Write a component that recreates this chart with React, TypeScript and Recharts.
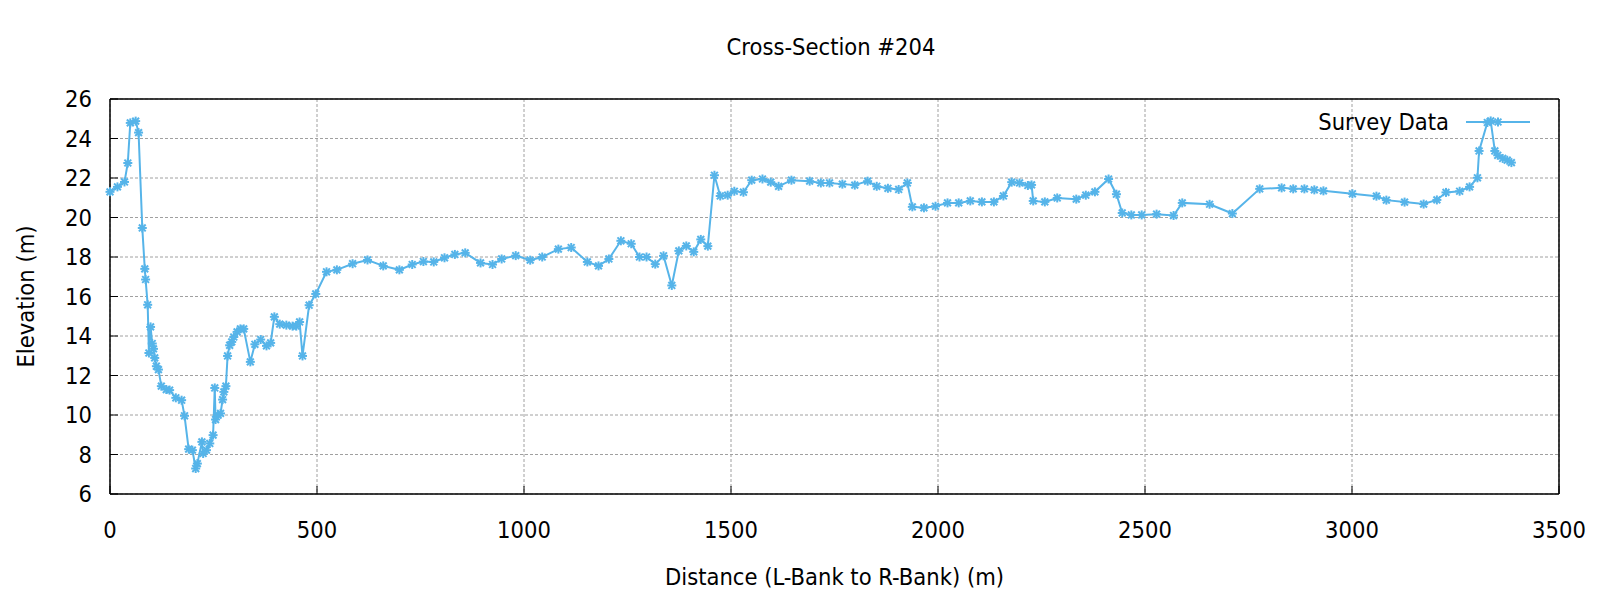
import { LineChart, Line, XAxis, YAxis, CartesianGrid, Legend, Label } from 'recharts';

const distance = [
  0, 18, 35, 43, 49, 62, 69, 78, 84, 86, 91, 94, 98, 102, 105, 108, 112, 117, 124, 136,
  144, 159, 173, 180, 190, 199, 207, 211, 222, 225, 233, 241, 249, 253, 255, 261, 267, 272, 275, 280,
  284, 289, 294, 299, 307, 315, 323, 339, 350, 364, 378, 388, 397, 410, 426, 441, 450, 458, 465, 481,
  497, 523, 548, 586, 622, 660, 699, 730, 757, 782, 808, 833, 858, 895, 924, 946, 980, 1015, 1044, 1083,
  1114, 1153, 1180, 1205, 1234, 1259, 1279, 1296, 1317, 1337, 1357, 1374, 1392, 1410, 1427, 1444, 1460, 1474, 1492, 1508,
  1530, 1550, 1576, 1596, 1615, 1646, 1690, 1717, 1738, 1769, 1799, 1830, 1852, 1879, 1905, 1926, 1938, 1966, 1994, 2023,
  2050, 2078, 2106, 2135, 2158, 2178, 2197, 2217, 2226, 2230, 2258, 2288, 2334, 2357, 2379, 2412, 2431, 2445, 2467, 2492,
  2528, 2569, 2590, 2656, 2711, 2777, 2830, 2858, 2885, 2909, 2931, 3001, 3059, 3083, 3127, 3173, 3205, 3227, 3260, 3284,
  3303, 3307, 3327, 3335, 3345, 3352, 3364, 3375, 3385,
];

const elevation = [
  21.3, 21.55, 21.8, 22.76, 24.79, 24.88, 24.3, 19.47, 17.4, 16.86, 15.58, 13.14, 14.46, 13.62, 13.35, 12.89, 12.47, 12.3, 11.46, 11.29,
  11.26, 10.87, 10.75, 9.96, 8.27, 8.22, 7.29, 7.54, 8.64, 8.05, 8.22, 8.56, 8.98, 11.37, 9.77, 9.99, 10.08, 10.78, 11.17, 11.46,
  12.99, 13.53, 13.7, 13.95, 14.21, 14.36, 14.36, 12.69, 13.58, 13.82, 13.5, 13.65, 14.97, 14.6, 14.55, 14.5, 14.5, 14.71, 12.99, 15.56,
  16.13, 17.25, 17.35, 17.66, 17.85, 17.55, 17.35, 17.62, 17.77, 17.75, 17.96, 18.13, 18.21, 17.7, 17.62, 17.9, 18.07, 17.84, 18.0, 18.4,
  18.48, 17.75, 17.55, 17.9, 18.82, 18.67, 18.0, 18.0, 17.64, 18.06, 16.56, 18.31, 18.56, 18.26, 18.89, 18.55, 22.14, 21.09, 21.13, 21.33,
  21.28, 21.89, 21.95, 21.79, 21.58, 21.89, 21.84, 21.75, 21.75, 21.69, 21.64, 21.84, 21.58, 21.48, 21.42, 21.75, 20.54, 20.49, 20.57, 20.74,
  20.74, 20.84, 20.79, 20.79, 21.09, 21.79, 21.75, 21.62, 21.65, 20.84, 20.79, 20.99, 20.93, 21.13, 21.3, 21.95, 21.18, 20.23, 20.13, 20.13,
  20.17, 20.1, 20.74, 20.67, 20.2, 21.45, 21.5, 21.45, 21.45, 21.4, 21.35, 21.2, 21.08, 20.88, 20.78, 20.68, 20.89, 21.27, 21.33, 21.55,
  22.01, 23.37, 24.81, 24.89, 23.37, 23.15, 22.99, 22.9, 22.78,
];

const xTicks = [0, 500, 1000, 1500, 2000, 2500, 3000, 3500];
const yTicks = [6, 8, 10, 12, 14, 16, 18, 20, 22, 24, 26];

const data = distance.map((d, i) => ({ distance: d, elevation: elevation[i] }));

const BLUE = '#56b4e9';
const FONT = '"Liberation Sans Narrow", "DejaVu Sans Condensed", Lato, sans-serif';
const FS = 23.5;

function Star(props: any) {
  const { cx, cy, index } = props;
  const r = 4.5;
  const d = 3.4;
  return (
    <g key={`pt-${index}`} stroke={BLUE} strokeWidth={2}>
      <line x1={cx - r} y1={cy} x2={cx + r} y2={cy} />
      <line x1={cx} y1={cy - r} x2={cx} y2={cy + r} />
      <line x1={cx - d} y1={cy - d} x2={cx + d} y2={cy + d} />
      <line x1={cx - d} y1={cy + d} x2={cx + d} y2={cy - d} />
    </g>
  );
}

function LegendBox() {
  return (
    <div style={{ display: 'flex', justifyContent: 'flex-end', alignItems: 'center', height: 30 }}>
      <span style={{ fontSize: FS, color: '#000' }}>Survey Data</span>
      <svg width={64} height={14} style={{ marginLeft: 17 }}>
        <line x1={0} y1={7} x2={64} y2={7} stroke={BLUE} strokeWidth={2} />
        <Star cx={32} cy={7} index={0} />
      </svg>
    </div>
  );
}

export default function App() {
  return (
    <div style={{ position: 'absolute', left: 0, top: 0, width: 1600, height: 600, background: '#fff', fontFamily: FONT }}>
      <div style={{ position: 'absolute', left: 631, top: 32, width: 400, textAlign: 'center', fontSize: FS, lineHeight: '30px' }}>
        Cross-Section #204
      </div>
      <LineChart width={1600} height={600} data={data} margin={{ top: 89, right: 31, bottom: 66, left: 50 }}>
        <CartesianGrid stroke="#a0a0a0" strokeDasharray="3 2" />
        <XAxis
          dataKey="distance"
          type="number"
          domain={[0, 3500]}
          ticks={xTicks}
          height={40}
          tickSize={-8}
          tickMargin={35}
          axisLine={{ stroke: '#000', strokeWidth: 1.5 }}
          tickLine={{ stroke: '#000' }}
          tick={{ fill: '#000', fontSize: FS }}
        >
          <Label value="Distance (L-Bank to R-Bank) (m)" position="bottom" offset={34} style={{ fill: '#000', fontSize: FS }} />
        </XAxis>
        <XAxis
          xAxisId="top"
          orientation="top"
          type="number"
          domain={[0, 3500]}
          ticks={xTicks}
          height={10}
          tickSize={-8}
          tick={false}
          axisLine={{ stroke: '#000', strokeWidth: 1.5 }}
          tickLine={{ stroke: '#000' }}
        />
        <YAxis
          type="number"
          domain={[6, 26]}
          ticks={yTicks}
          width={60}
          tickSize={-8}
          tickMargin={26}
          axisLine={{ stroke: '#000', strokeWidth: 1.5 }}
          tickLine={{ stroke: '#000' }}
          tick={{ fill: '#000', fontSize: FS }}
        >
          <Label value="Elevation (m)" position="left" angle={-90} offset={24} style={{ fill: '#000', fontSize: FS, textAnchor: 'middle' }} />
        </YAxis>
        <YAxis
          yAxisId="right"
          orientation="right"
          type="number"
          domain={[6, 26]}
          ticks={yTicks}
          width={10}
          tickSize={-8}
          tick={false}
          axisLine={{ stroke: '#000', strokeWidth: 1.5 }}
          tickLine={{ stroke: '#000' }}
        />
        <Legend
          layout="horizontal"
          verticalAlign="middle"
          align="center"
          content={<LegendBox />}
          wrapperStyle={{ left: 1230, top: 107, width: 300, height: 30 }}
        />
        <Line
          dataKey="elevation"
          name="Survey Data"
          stroke={BLUE}
          strokeWidth={2}
          dot={Star}
          activeDot={false}
          isAnimationActive={false}
        />
      </LineChart>
    </div>
  );
}
